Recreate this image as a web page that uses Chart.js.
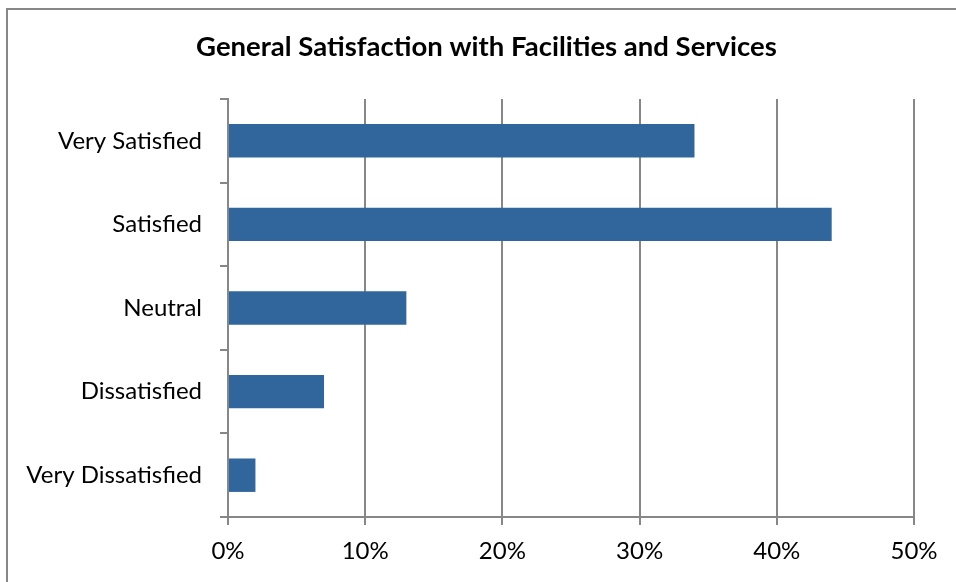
<!DOCTYPE html>
<html>
<head>
<meta charset="utf-8">
<script src="https://cdn.jsdelivr.net/npm/chart.js@4/dist/chart.umd.min.js"></script>
<style>
  body { margin: 0; background: #fff; }
  #wrap { position: relative; width: 956px; height: 582px; }
</style>
</head>
<body>
<div id="wrap"><canvas id="bar_chart" width="956" height="582"></canvas></div>
<script>
// data
var categories = ["Very Satisfied", "Satisfied", "Neutral", "Dissatisfied", "Very Dissatisfied"];
var percents = [0.34, 0.44, 0.13, 0.07, 0.02];
var chartTitle = "General Satisfaction with Facilities and Services";

var gridColor = "#878787";

// outer frame (cropped at right and bottom like the picture)
var framePlugin = {
    id: 'frame',
    beforeDraw: function (chart) {
        var c = chart.ctx;
        c.save();
        c.fillStyle = '#fff';
        c.fillRect(0, 0, chart.width, chart.height);
        c.strokeStyle = gridColor;
        c.lineWidth = 2;
        c.beginPath();
        c.moveTo(7, chart.height + 5);
        c.lineTo(7, 9);
        c.lineTo(chart.width + 5, 9);
        c.stroke();
        c.restore();
    }
};

var ctx = document.getElementById("bar_chart");
var myChart = new Chart(ctx, {
    type: 'bar',
    data: {
        labels: categories,
        datasets: [{
            label: "Satisfaction",
            data: percents,
            backgroundColor: '#31669c',
            barPercentage: 0.4,
            categoryPercentage: 1
        }]
    },
    plugins: [framePlugin],
    options: {
        indexAxis: 'y',
        responsive: false,
        animation: false,
        layout: {
            padding: { left: 17, right: 0, top: 0, bottom: 0 }
        },
        plugins: {
            legend: { display: false },
            tooltip: { enabled: false },
            title: {
                display: true,
                text: chartTitle,
                color: '#000',
                font: { family: 'Lato', size: 27.5, weight: 'bold' },
                padding: { top: 31, bottom: 35 }
            }
        },
        scales: {
            x: {
                min: 0,
                max: 0.5,
                ticks: {
                    stepSize: 0.1,
                    color: '#000',
                    padding: 12,
                    font: { family: 'Lato', size: 24 },
                    callback: function (v) { return Math.round(v * 100) + '%'; }
                },
                grid: {
                    color: gridColor,
                    lineWidth: 2,
                    tickLength: 8,
                    tickColor: gridColor
                },
                border: { color: gridColor, width: 2 },
                afterFit: function (scale) { scale.height = 65; }
            },
            y: {
                ticks: {
                    color: '#000',
                    padding: 18,
                    font: { family: 'Lato', size: 24 }
                },
                grid: {
                    offset: true,
                    drawOnChartArea: false,
                    tickLength: 8,
                    color: gridColor,
                    lineWidth: 2
                },
                border: { color: gridColor, width: 2 },
                afterFit: function (scale) { scale.width = 228 - 17; }
            },
            // empty right-hand spacer so the plot ends where the original does
            spacer: {
                type: 'linear',
                position: 'right',
                ticks: { display: false },
                grid: { display: false },
                border: { display: false },
                afterFit: function (scale) { scale.width = 42; }
            }
        }
    }
});
</script>
</body>
</html>
